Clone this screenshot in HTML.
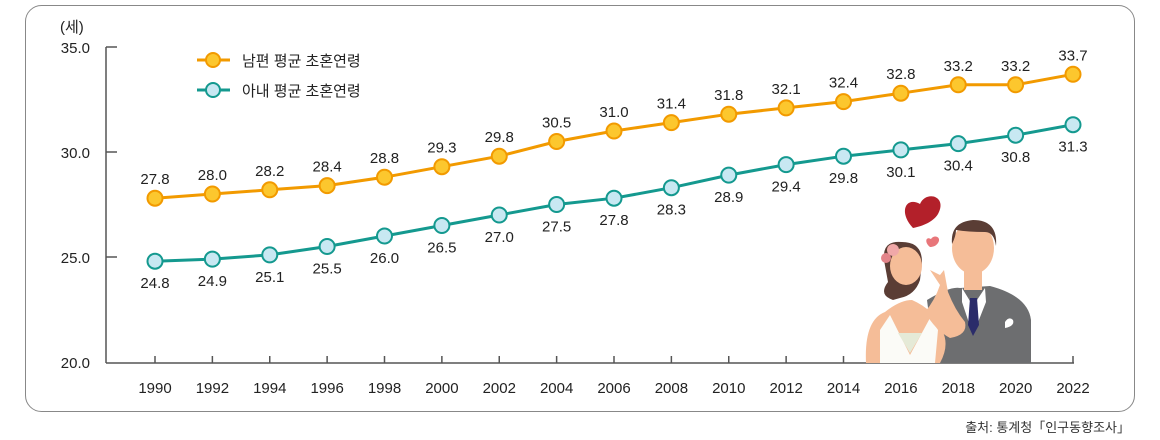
<!DOCTYPE html>
<html><head><meta charset="utf-8"><style>
body{margin:0;background:#fff;}
svg{display:block;font-family:"Liberation Sans","Noto Sans CJK KR",sans-serif;}
</style></head><body>
<svg width="1160" height="440" viewBox="0 0 1160 440">
<rect x="25.5" y="5.5" width="1109" height="406" rx="16" fill="#fff" stroke="#888" stroke-width="1"/>
<text x="60" y="32" font-size="15" fill="#222">(세)</text>
<g id="axes"></g>
<g id="illus">
  <path d="M905 228 C890 212 898 196 912 204 C918 190 940 196 930 214 C925 222 915 226 905 228Z" transform="translate(8,0)" fill="#b3202a"/>
  <path d="M930 247 C924 242 926 236 931 239 C934 234 942 237 938 243 C936 246 933 247 930 247Z" fill="#e8767a"/>
  <path d="M927 300 Q950 286 960 288 L990 286 Q1028 296 1031 320 L1031 363 L935 363Z" fill="#6d6e70"/>
  <path d="M962 288 L973 306 L985 288 L986 302 L973 335 L962 302Z" fill="#fff"/>
  <path d="M970 298 L977 298 L979 325 L973 336 L968 325Z" fill="#2b2c6a"/>
  <rect x="964" y="266" width="18" height="24" fill="#f5bd98"/>
  <ellipse cx="973" cy="248" rx="21" ry="26" fill="#f5bd98"/>
  <path d="M952 244 Q950 222 973 220 Q998 220 996 246 Q994 232 985 232 Q968 232 956 230 Q956 236 952 244Z" fill="#5a3d35"/>
  <path d="M1005 322 q4 -6 8 -2 q2 6 -8 8z" fill="#fff"/>
  <path d="M866 363 Q864 320 885 312 Q900 300 912 300 Q935 310 942 330 Q950 345 940 363Z" fill="#f5bd98"/>
  <path d="M880 330 L890 315 L910 355 L930 318 L938 330 L935 363 L880 363Z" fill="#fbfbf7"/>
  <path d="M898 333 L922 333 L910 353Z" fill="#e5ead7"/>
  <path d="M925 312 Q935 300 940 285 L930 270 L940 275 L944 270 L948 292 Q955 310 965 322 Q968 335 950 338 Q935 330 925 312Z" fill="#f5bd98"/>
  <path d="M884 260 Q882 240 902 242 Q922 242 922 262 L920 280 Q915 295 900 298 L893 300 Q878 295 888 282Z" fill="#5a3d35"/>
  <ellipse cx="906" cy="266" rx="16" ry="19" fill="#f5bd98"/>
  <circle cx="893" cy="250" r="6" fill="#f0a8a8"/><circle cx="886" cy="258" r="5" fill="#e3848a"/>
</g>
<g id="legend">
  <g>
    <line x1="197" y1="60" x2="230" y2="60" stroke="#f29a00" stroke-width="3"/>
    <circle cx="213" cy="60" r="7" fill="#fcc72e" stroke="#f29a00" stroke-width="2"/>
    <text x="242" y="66" font-size="15" fill="#222">남편 평균 초혼연령</text>
  </g>
  <g>
    <line x1="197" y1="90" x2="230" y2="90" stroke="#14998f" stroke-width="3"/>
    <circle cx="213" cy="90" r="7" fill="#c8e8f2" stroke="#14998f" stroke-width="2"/>
    <text x="242" y="96" font-size="15" fill="#222">아내 평균 초혼연령</text>
  </g>
</g>
<g id="series"></g>
<text x="1130" y="432" font-size="13" fill="#333" text-anchor="end">출처: 통계청「인구동향조사」</text>
</svg>
<script>
const years=["1990","1992","1994","1996","1998","2000","2002","2004","2006","2008","2010","2012","2014","2016","2018","2020","2022"];
const husband=[27.8,28.0,28.2,28.4,28.8,29.3,29.8,30.5,31.0,31.4,31.8,32.1,32.4,32.8,33.2,33.2,33.7];
const wife=[24.8,24.9,25.1,25.5,26.0,26.5,27.0,27.5,27.8,28.3,28.9,29.4,29.8,30.1,30.4,30.8,31.3];
const yTicks=[20,25,30,35];
const NS="http://www.w3.org/2000/svg";
function xS(i){return 155+i*(1073-155)/16;}
function yS(v){return 362-(v-20)*21;}
function mk(tag,attrs,parent){const e=document.createElementNS(NS,tag);for(const k in attrs)e.setAttribute(k,attrs[k]);parent.appendChild(e);return e;}
const ax=document.getElementById('axes');
let yl=mk('line',{x1:106,y1:yS(35),x2:106,y2:363,stroke:'#555','stroke-width':1.5},ax);


let xl=mk('line',{x1:106,y1:363,x2:1074,y2:363,stroke:'#555','stroke-width':1.5},ax);


yTicks.forEach(v=>{
  if(v>20) mk('line',{x1:106,y1:yS(v),x2:117,y2:yS(v),stroke:'#555','stroke-width':1.5},ax);
  const t=mk('text',{x:90,y:yS(v)+6,'font-size':15,fill:'#222','text-anchor':'end'},ax);
  t.textContent=v.toFixed(1);
  
  
});
years.forEach((y,i)=>{
  mk('line',{x1:xS(i),y1:363,x2:xS(i),y2:356,stroke:'#555','stroke-width':1.5},ax);
  const t=mk('text',{x:xS(i),y:393,'font-size':15,fill:'#222','text-anchor':'middle'},ax);
  t.textContent=y;
  
  
});
const sg=document.getElementById('series');
function draw(data,stroke,fill,name,above){
  const g=mk('g',{},sg);
  
  
  const pl=mk('polyline',{points:data.map((v,i)=>xS(i)+','+yS(v)).join(' '),fill:'none',stroke:stroke,'stroke-width':3},g);
  
  
  data.forEach((v,i)=>{
    const c=mk('circle',{cx:xS(i),cy:yS(v),r:7.5,fill:fill,stroke:stroke,'stroke-width':2},g);
    
    
    const t=mk('text',{x:xS(i),y:above?yS(v)-14:yS(v)+27,'font-size':15,fill:'#222','text-anchor':'middle'},g);
    t.textContent=v.toFixed(1);
    
    
  });
}
draw(husband,'#f29a00','#fcc72e','husband',true);
draw(wife,'#14998f','#c8e8f2','wife',false);
</script>
</body></html>
